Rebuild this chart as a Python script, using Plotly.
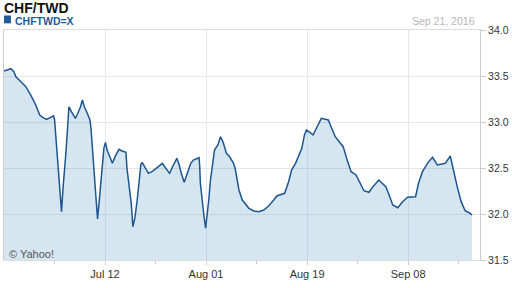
import plotly.graph_objects as go

# time axis in trading days since start (Jun 22), values = CHF/TWD rate
t = [0, 0.69, 0.96, 1.37, 1.65, 2.34, 3.02, 3.71, 4.40, 4.95, 5.36, 5.91, 6.46, 6.87, 7.01,
     7.15, 7.35, 7.56, 7.76, 7.97, 8.18, 8.38, 8.59, 8.79, 9.00, 9.34, 9.89, 10.17, 10.58,
     10.86, 11.13, 11.54, 11.91, 12.05, 12.19, 12.37, 12.55, 12.74, 12.96, 13.19, 13.43,
     13.60, 13.84, 14.06, 14.29, 14.66, 15.02, 15.39, 15.94, 16.35, 16.90, 17.04, 17.27,
     17.45, 17.63, 17.86, 18.14, 18.46, 18.69, 18.96, 19.14, 19.51, 20.02, 20.61, 21.30,
     21.95, 22.26, 22.95, 23.36, 23.95, 24.28, 24.56, 24.97, 25.38, 25.88, 26.25, 27.03,
     27.11, 27.21, 27.39, 27.52, 27.72, 27.94, 28.17, 28.40, 28.58, 28.76, 28.95, 29.17,
     29.64, 30.00, 30.37, 30.82, 31.19, 31.74, 32.02, 32.29, 32.56, 33.02, 33.94, 34.63,
     35.32, 36.00, 36.69, 37.38, 37.79, 38.89, 39.44, 39.85, 40.40, 41.27, 41.64, 41.91,
     42.46, 42.83, 43.29, 43.97, 44.93, 45.35, 45.90, 46.45, 47.00, 47.55, 48.10, 48.78,
     49.33, 49.88, 50.57, 51.12, 51.94, 52.91, 53.46, 53.87, 54.56, 55.24, 55.93, 57.03,
     57.44, 57.99, 58.68, 59.37, 60.05, 61.15, 61.84, 62.25, 62.80, 63.35, 63.90, 64.45, 64.86]
rate = [33.554, 33.568, 33.579, 33.547, 33.492, 33.438, 33.384, 33.293, 33.185, 33.076,
        33.051, 33.029, 33.054, 33.068, 33.022, 32.880, 32.641, 32.478, 32.283, 32.025,
        32.283, 32.446, 32.677, 32.913, 33.166, 33.112, 33.040, 33.084, 33.160, 33.239,
        33.166, 33.095, 33.022, 32.935, 32.783, 32.641, 32.478, 32.174, 31.946, 32.134,
        32.351, 32.478, 32.714, 32.779, 32.696, 32.623, 32.551, 32.623, 32.703, 32.685,
        32.671, 32.497, 32.370, 32.242, 32.116, 31.862, 31.957, 32.152, 32.334, 32.533,
        32.562, 32.514, 32.442, 32.467, 32.511, 32.551, 32.514, 32.442, 32.514, 32.605,
        32.533, 32.442, 32.345, 32.442, 32.551, 32.587, 32.612, 32.533, 32.334, 32.207,
        32.079, 31.971, 31.845, 31.989, 32.171, 32.351, 32.478, 32.605, 32.696, 32.750,
        32.840, 32.779, 32.660, 32.630, 32.562, 32.500, 32.370, 32.261, 32.152, 32.062,
        32.033, 32.025, 32.043, 32.090, 32.152, 32.196, 32.225, 32.351, 32.478, 32.551,
        32.714, 32.859, 32.913, 32.884, 32.859, 32.932, 33.040, 33.022, 32.949, 32.840,
        32.786, 32.732, 32.587, 32.460, 32.424, 32.334, 32.253, 32.236, 32.297, 32.370,
        32.297, 32.188, 32.098, 32.068, 32.134, 32.182, 32.188, 32.334, 32.460, 32.551,
        32.616, 32.533, 32.551, 32.630, 32.478, 32.297, 32.134, 32.036, 32.014, 31.989]

tick_pos = [14, 28, 42, 56]
tick_labels = ["Jul 12", "Aug 01", "Aug 19", "Sep 08"]
minor_pos = [7, 21, 35, 49, 63]
y_ticks = [31.5, 32.0, 32.5, 33.0, 33.5, 34.0]

FONT = "Liberation Sans, Arial, sans-serif"

fig = go.Figure()
fig.add_trace(go.Scatter(
    x=t, y=rate, mode="lines",
    line=dict(color="#1c5590", width=1.5),
    fill="tozeroy", fillcolor="rgba(70,140,190,0.22)",
    hoverinfo="skip", showlegend=False,
))

fig.update_layout(
    width=512, height=288,
    margin=dict(l=3, r=29, t=29.5, b=28),
    paper_bgcolor="white", plot_bgcolor="white",
    font=dict(family=FONT, size=11, color="#333"),
    xaxis=dict(
        range=[0, 65.96],
        tickvals=tick_pos, ticktext=tick_labels,
        ticks="outside", ticklen=4, tickcolor="#cccccc",
        showgrid=True, gridcolor="#e3e9f2", gridwidth=1,
        showline=True, linecolor="#dcdcdc", mirror=True,
        zeroline=False,
        tickfont=dict(size=11, color="#333"),
        minor=dict(tickvals=minor_pos, ticks="outside", ticklen=3,
                   tickcolor="#cccccc", showgrid=False),
    ),
    yaxis=dict(
        range=[31.5, 34.0], side="right",
        tickvals=y_ticks, tickformat=".1f",
        ticks="outside", ticklen=5, tickcolor="#cccccc",
        showgrid=True, gridcolor="#e6e6e6", gridwidth=1,
        showline=True, linecolor="#cccccc", mirror=True,
        zeroline=False,
        tickfont=dict(size=10.5, color="#333"),
    ),
)

fig.add_annotation(text="<b>CHF/TWD</b>", xref="paper", yref="paper",
                   x=0, y=1.091, xanchor="left", yanchor="middle", showarrow=False,
                   font=dict(family=FONT, size=14, color="#111"), borderpad=0,
                   xshift=-1, yshift=1)
fig.add_annotation(text="<b>CHFTWD=X</b>", xref="paper", yref="paper",
                   x=0.0208, y=1.0434, xanchor="left", yanchor="middle", showarrow=False,
                   font=dict(family=FONT, size=10.5, color="#1f5a96"), borderpad=0,
                   yshift=-1)
fig.add_shape(type="rect", xref="paper", yref="paper",
              x0=0, x1=0.0146, y0=1.029, y1=1.063,
              fillcolor="#1f5a96", line=dict(width=0))
fig.add_annotation(text="Sep 21, 2016", xref="paper", yref="paper",
                   x=0.9917, y=1.039, xanchor="right", yanchor="middle", showarrow=False,
                   font=dict(family=FONT, size=10.5, color="#b8b8b8"), borderpad=0)
fig.add_annotation(text="© Yahoo!", xref="paper", yref="paper",
                   x=0.008, y=0.026, xanchor="left", yanchor="middle", showarrow=False,
                   font=dict(family=FONT, size=11, color="#555"), borderpad=0)

fig.write_html("out.html")
